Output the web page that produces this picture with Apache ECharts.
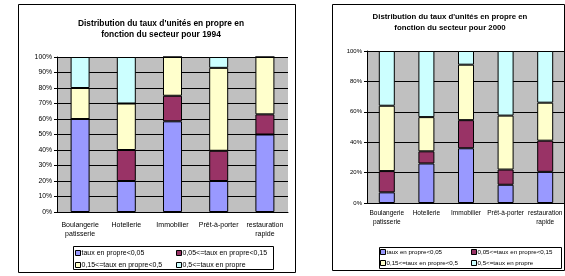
<!DOCTYPE html>
<html>
<head>
<meta charset="utf-8">
<script src="https://cdn.jsdelivr.net/npm/echarts@6/dist/echarts.min.js"></script>
<style>
html, body { margin: 0; padding: 0; background: #fff; }
#chart { width: 565px; height: 276px; }
</style>
</head>
<body>
<div id="chart"></div>
<script>
const sectors = ['Boulangerie\npatisserie', 'Hotellerie', 'Immobilier', 'Prêt-à-porter', 'restauration\nrapide'];
const classes = ['taux en propre<0,05', '0,05<=taux en propre<0,15', '0,15<=taux en propre<0,5', '0,5<=taux en propre'];
const colors = ['#9999FF', '#993366', '#FFFFCC', '#CCFFFF'];

// one row per class, one column per sector (percent)
const share1994 = [
    [60, 20, 58.5, 20, 50],
    [0, 20, 16.5, 19.5, 13],
    [20, 30, 25, 53.5, 37],
    [20, 30, 0, 7, 0],
];
const share2000 = [
    [7, 26, 36, 12, 20.5],
    [14, 8, 18.5, 10, 20.5],
    [43, 22.5, 36.5, 35.5, 25],
    [36, 43.5, 9, 42.5, 34],
];

const font = '"Liberation Sans", Arial, sans-serif';
const chart = echarts.init(document.getElementById('chart'));

const xAxis = (gridIndex, size, margin) => ({
    type: 'category',
    gridIndex,
    data: sectors,
    axisLine: { lineStyle: { color: '#000', width: 1 } },
    axisTick: { length: 3, lineStyle: { color: '#000' } },
    axisLabel: { interval: 0, color: '#000', fontFamily: font, fontSize: size, lineHeight: size + 2.5, margin },
});

const yAxis = (gridIndex, interval, size) => ({
    type: 'value',
    gridIndex,
    min: 0,
    max: 100,
    interval,
    axisLine: { show: true, lineStyle: { color: '#000', width: 1 } },
    axisTick: { show: true, length: 3, lineStyle: { color: '#000' } },
    axisLabel: { formatter: '{value}%', color: '#000', fontFamily: font, fontSize: size, margin: 5 },
    splitLine: { lineStyle: { color: '#000', width: 1 } },
});

const makeSeries = (rows, idx, stack, barWidth) =>
    rows.map((vals, i) => ({
        name: classes[i],
        type: 'bar',
        stack,
        xAxisIndex: idx,
        yAxisIndex: idx,
        barWidth,
        data: vals,
        itemStyle: { color: colors[i], borderColor: '#000', borderWidth: 1 },
        emphasis: { disabled: true },
    }));

const legendCol = (left, top, names, gap, size) => ({
    orient: 'vertical',
    left,
    top,
    padding: 0,
    data: names,
    icon: 'rect',
    itemWidth: 5,
    itemHeight: 5,
    itemGap: gap,
    selectedMode: false,
    itemStyle: { borderColor: '#000', borderWidth: 1 },
    textStyle: { fontFamily: font, fontSize: size, color: '#000', lineHeight: 8, padding: [0, 0, 0, -4] },
});

const titleLine = (x, y, text, size) => ({
    type: 'text',
    style: { x, y, text, textAlign: 'center', textVerticalAlign: 'middle', font: `bold ${size}px ${font}`, fill: '#000' },
});

const box = (x, y, w, h) => ({
    type: 'rect',
    shape: { x: x + 0.5, y: y + 0.5, width: w, height: h },
    style: { fill: null, stroke: '#000', lineWidth: 1 },
    z: 10,
});

chart.setOption({
    animation: false,
    grid: [
        { left: 57, top: 57, width: 231, height: 155, show: true, backgroundColor: '#C0C0C0', borderWidth: 0 },
        { left: 367, top: 51, width: 203, height: 152, show: true, backgroundColor: '#C0C0C0', borderWidth: 0 },
    ],
    xAxis: [xAxis(0, 7, 8), xAxis(1, 6.5, 6)],
    yAxis: [yAxis(0, 10, 6.8), yAxis(1, 20, 6)],
    legend: [
        legendCol(75, 249, [classes[0], classes[2]], 4, 7),
        legendCol(176, 249, [classes[1], classes[3]], 4, 7),
        legendCol(380, 248, [classes[0], classes[2]], 3, 6.2),
        legendCol(471, 248, [classes[1], classes[3]], 3, 6.2),
    ],
    series: [...makeSeries(share1994, 0, 'y1994', 19), ...makeSeries(share2000, 1, 'y2000', 16)],
    graphic: [
        box(18, 4, 277, 268),
        box(332, 4, 232, 266),
        box(73, 246, 200, 23),
        box(379, 247, 182, 21),
        titleLine(161, 24, "Distribution du taux d'unités en propre en", 8.4),
        titleLine(161, 35, 'fonction du secteur pour 1994', 8.4),
        titleLine(450, 17, "Distribution du taux d'unités en propre en", 7.8),
        titleLine(450, 28, 'fonction du secteur pour 2000', 7.8),
    ],
});

window.addEventListener('resize', chart.resize);
</script>
</body>
</html>
